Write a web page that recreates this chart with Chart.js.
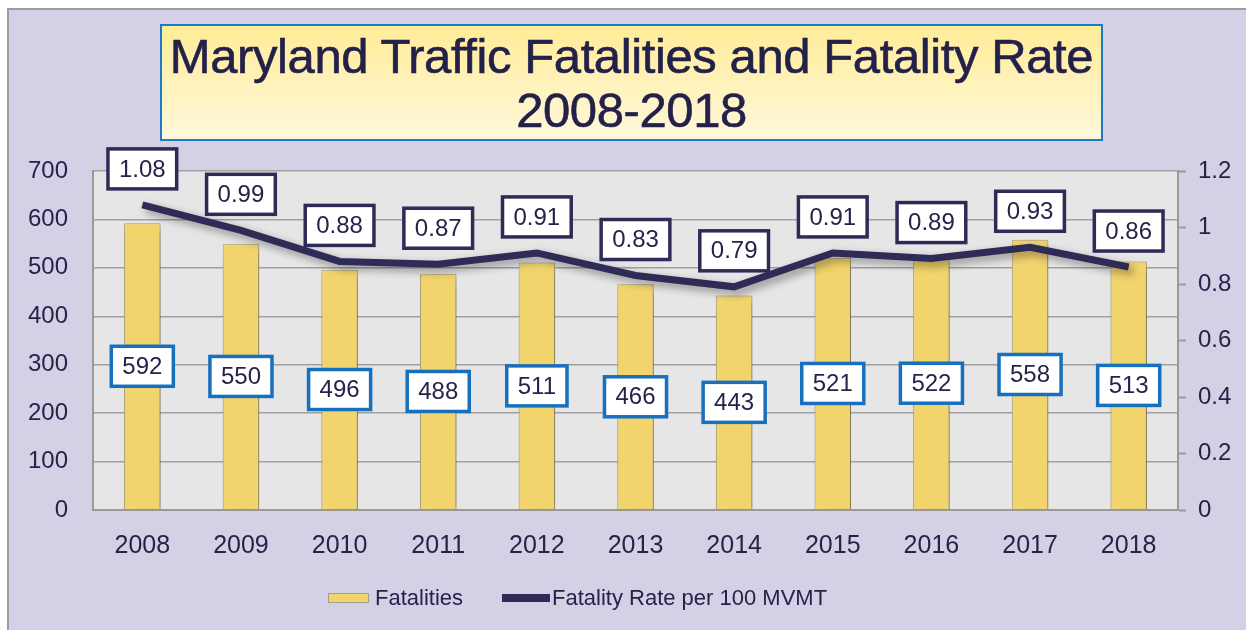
<!DOCTYPE html>
<html>
<head>
<meta charset="utf-8">
<script src="https://cdn.jsdelivr.net/npm/chart.js@4"></script>
<style>
  html, body { margin: 0; padding: 0; background: #fff; overflow: hidden; }
  #panel {
    position: absolute; left: 7px; top: 8px; width: 1260px; height: 640px;
    background: #D4D0E6; border: 2px solid #9c9c9c; box-sizing: border-box;
  }
  #chart { position: absolute; left: 0; top: 0; }
  #title {
    position: absolute; left: 160px; top: 24px; width: 943px; height: 117px;
    box-sizing: border-box; border: 2px solid #1b7bc9;
    background: linear-gradient(#ffec98, #fff8dc);
    font-family: "Liberation Sans", Arial, sans-serif; font-size: 49px;
    letter-spacing: -0.4px; -webkit-text-stroke: 0.6px #23214a;
    line-height: 54px; color: #23214a; text-align: center; padding-top: 3px;
  }
</style>
</head>
<body>
<div id="panel"></div>
<div id="title">Maryland Traffic Fatalities and Fatality Rate<br>2008-2018</div>
<canvas id="chart" width="1246" height="630"></canvas>
<script>
const years = ['2008', '2009', '2010', '2011', '2012', '2013', '2014', '2015', '2016', '2017', '2018'];
const fatalities = [592, 550, 496, 488, 511, 466, 443, 521, 522, 558, 513];
const fatalityRate = [1.08, 0.99, 0.88, 0.87, 0.91, 0.83, 0.79, 0.91, 0.89, 0.93, 0.86];

const navy = '#2e2b57';
const barYellow = '#f2d46d';
const textColor = '#25234a';
const font = 'Liberation Sans, Arial, sans-serif';

// grey plot background
const plotBg = {
    id: 'plotBg',
    beforeDraw(chart) {
        const a = chart.chartArea;
        const ctx = chart.ctx;
        ctx.save();
        ctx.fillStyle = '#e6e6e6';
        ctx.fillRect(a.left, a.top, a.right - a.left, a.bottom - a.top);
        ctx.restore();
    }
};

// soft drop shadow under bars and line
const shadows = {
    id: 'shadows',
    beforeDatasetDraw(chart) {
        const ctx = chart.ctx;
        ctx.save();
        ctx.shadowColor = 'rgba(0,0,0,0.4)';
        ctx.shadowBlur = 9;
        ctx.shadowOffsetX = 4;
        ctx.shadowOffsetY = 4;
    },
    afterDatasetDraw(chart) {
        chart.ctx.restore();
    }
};

// boxed value labels
const valueBoxes = {
    id: 'valueBoxes',
    afterDatasetsDraw(chart) {
        const ctx = chart.ctx;
        ctx.save();
        ctx.font = '24px ' + font;
        ctx.textAlign = 'center';
        ctx.textBaseline = 'middle';
        chart.data.datasets.forEach((ds, i) => {
            const meta = chart.getDatasetMeta(i);
            meta.data.forEach((el, j) => {
                let text, cy, border;
                if (ds.type === 'line') {
                    text = ds.data[j].toFixed(2);
                    cy = el.y - 36;
                    border = navy;
                } else {
                    text = String(ds.data[j]);
                    cy = (el.y + el.base) / 2;
                    border = '#1670bd';
                }
                const cx = el.x;
                const w = ctx.measureText(text).width + 22;
                const h = 40;
                ctx.fillStyle = '#fff';
                ctx.fillRect(cx - w / 2, cy - h / 2, w, h);
                ctx.lineWidth = 3.5;
                ctx.strokeStyle = border;
                ctx.strokeRect(cx - w / 2, cy - h / 2, w, h);
                ctx.fillStyle = textColor;
                ctx.fillText(text, cx, cy + 1);
            });
        });
        ctx.restore();
    }
};

// legend below the axis, placed like the original
const bottomLegend = {
    id: 'bottomLegend',
    afterDraw(chart) {
        const ctx = chart.ctx;
        const bar = chart.data.datasets[1];
        const line = chart.data.datasets[0];
        const y = 598;
        ctx.save();
        ctx.font = '22px ' + font;
        ctx.textBaseline = 'middle';
        ctx.fillStyle = bar.backgroundColor;
        ctx.fillRect(328, y - 5, 41, 10);
        ctx.strokeStyle = '#a8a08a';
        ctx.lineWidth = 1;
        ctx.strokeRect(328.5, y - 4.5, 40, 9);
        ctx.fillStyle = textColor;
        ctx.fillText(bar.label, 375, y + 1);
        ctx.fillStyle = line.borderColor;
        ctx.fillRect(502, y - 4, 48, 8);
        ctx.fillStyle = textColor;
        ctx.fillText(line.label, 552, y + 1);
        ctx.restore();
    }
};

new Chart(document.getElementById('chart'), {
    data: {
        labels: years,
        datasets: [{
            type: 'line',
            label: 'Fatality Rate per 100 MVMT',
            data: fatalityRate,
            yAxisID: 'y1',
            borderColor: navy,
            backgroundColor: navy,
            borderWidth: 7,
            pointRadius: 0,
            tension: 0,
            order: 1
        }, {
            type: 'bar',
            label: 'Fatalities',
            data: fatalities,
            yAxisID: 'y',
            backgroundColor: barYellow,
            borderColor: '#b8a878',
            borderWidth: 1,
            categoryPercentage: 1,
            barPercentage: 0.37,
            order: 2
        }]
    },
    options: {
        responsive: false,
        animation: false,
        layout: { padding: { top: 171, left: 0, right: 0, bottom: 0 } },
        plugins: {
            tooltip: { enabled: false },
            legend: { display: false }
        },
        scales: {
            x: {
                afterFit(s) { s.height = 120; },
                grid: { display: false },
                border: { color: '#9a9a9a', width: 2 },
                ticks: { color: textColor, font: { size: 25, family: font }, padding: 13 }
            },
            y: {
                position: 'left',
                min: 0,
                max: 700,
                afterFit(s) { s.width = 93; },
                grid: { color: '#a0a0a0', lineWidth: 1.5, drawTicks: false },
                border: { color: '#9a9a9a', width: 2 },
                ticks: { stepSize: 100, color: textColor, font: { size: 24, family: font }, padding: 25 }
            },
            y1: {
                position: 'right',
                min: 0,
                max: 1.2,
                afterFit(s) { s.width = 68; },
                grid: { drawOnChartArea: false, color: '#9a9a9a', tickLength: 8, tickWidth: 2 },
                border: { color: '#9a9a9a', width: 2 },
                ticks: {
                    stepSize: 0.2,
                    color: textColor,
                    font: { size: 24, family: font },
                    padding: 12,
                    callback: v => String(Number(v.toFixed(1)))
                }
            }
        }
    },
    plugins: [plotBg, shadows, valueBoxes, bottomLegend]
});
</script>
</body>
</html>
